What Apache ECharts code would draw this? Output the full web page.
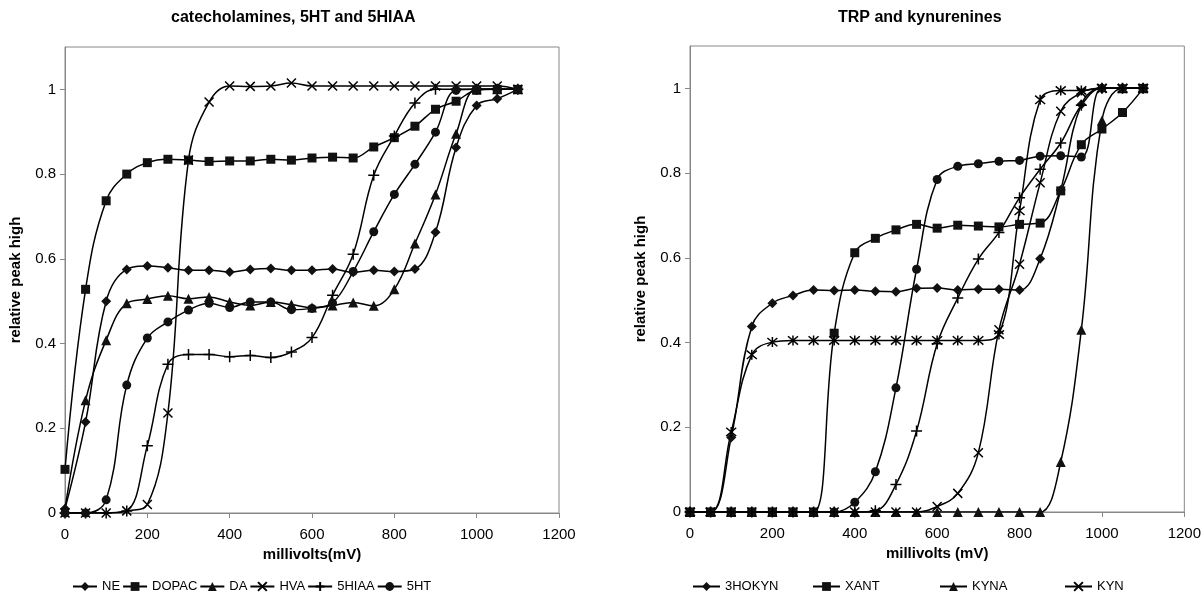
<!DOCTYPE html>
<html>
<head>
<meta charset="utf-8">
<script src="https://cdn.jsdelivr.net/npm/echarts@6/dist/echarts.min.js"></script>
<style>
  html, body { margin: 0; background: #fff; }
  #chart { width: 1204px; height: 616px; }
</style>
</head>
<body>
<div id="chart"></div>
<script>
// x values (mV), shared by both panels
const millivolts = [0, 50, 100, 150, 200, 250, 300, 350, 400, 450, 500, 550,
  600, 650, 700, 750, 800, 850, 900, 950, 1000, 1050, 1100];

// left panel: catecholamines, 5HT and 5HIAA
const NE    = [0.01, 0.215, 0.50, 0.575, 0.583, 0.579, 0.573, 0.573, 0.569, 0.575, 0.577, 0.573, 0.573, 0.576, 0.568, 0.573, 0.57, 0.576, 0.663, 0.863, 0.962, 0.978, 1.0];
const DOPAC = [0.103, 0.528, 0.737, 0.80, 0.827, 0.835, 0.833, 0.83, 0.831, 0.831, 0.835, 0.833, 0.838, 0.84, 0.838, 0.864, 0.886, 0.913, 0.953, 0.972, 0.998, 1.0, 1.0];
const DA    = [0.01, 0.266, 0.408, 0.495, 0.505, 0.513, 0.506, 0.51, 0.498, 0.49, 0.498, 0.492, 0.485, 0.49, 0.497, 0.489, 0.528, 0.636, 0.752, 0.895, 1.0, 1.0, 1.0];
const HVA   = [0, 0, 0, 0.005, 0.02, 0.236, 0.833, 0.97, 1.008, 1.007, 1.008, 1.015, 1.008, 1.008, 1.008, 1.008, 1.008, 1.008, 1.008, 1.008, 1.008, 1.008, 1.0];
const HIAA5 = [0, 0, 0, 0.005, 0.159, 0.351, 0.374, 0.374, 0.369, 0.372, 0.367, 0.38, 0.414, 0.514, 0.611, 0.797, 0.89, 0.968, 1.0, 1.0, 1.0, 1.0, 1.0];
const HT5   = [0, 0, 0.031, 0.302, 0.413, 0.451, 0.479, 0.495, 0.485, 0.498, 0.498, 0.48, 0.483, 0.496, 0.57, 0.664, 0.752, 0.823, 0.899, 0.998, 1.0, 1.0, 1.0];

// right panel: TRP and kynurenines
const HOKYN3 = [0, 0, 0.176, 0.438, 0.493, 0.511, 0.524, 0.523, 0.524, 0.521, 0.52, 0.528, 0.529, 0.524, 0.526, 0.526, 0.524, 0.598, 0.76, 0.962, 1.0, 1.0, 1.0];
const XANT   = [0, 0, 0, 0, 0, 0, 0, 0.422, 0.612, 0.646, 0.666, 0.679, 0.67, 0.677, 0.675, 0.673, 0.679, 0.682, 0.758, 0.867, 0.904, 0.943, 1.0];
const KYNA   = [0, 0, 0, 0, 0, 0, 0, 0, 0, 0, 0, 0, 0, 0, 0, 0, 0, 0, 0.118, 0.43, 0.924, 1.0, 1.0];
const KYN    = [0, 0, 0, 0, 0, 0, 0, 0, 0, 0, 0, 0, 0.013, 0.044, 0.14, 0.43, 0.585, 0.777, 0.946, 0.99, 1.0, 1.0, 1.0];
// series whose legend entries are cut off in the source
const starSeries   = [0, 0, 0.189, 0.371, 0.401, 0.405, 0.405, 0.405, 0.405, 0.405, 0.405, 0.405, 0.405, 0.405, 0.405, 0.419, 0.711, 0.973, 0.995, 0.995, 1.0, 1.0, 1.0];
const circleSeries = [0, 0, 0, 0, 0, 0, 0, 0, 0.023, 0.095, 0.293, 0.573, 0.785, 0.816, 0.822, 0.828, 0.83, 0.84, 0.841, 0.838, 1.0, 1.0, 1.0];
const plusSeries   = [0, 0, 0, 0, 0, 0, 0, 0, 0, 0.003, 0.065, 0.191, 0.397, 0.505, 0.597, 0.66, 0.742, 0.809, 0.871, 0.96, 1.0, 1.0, 1.0];

const yTicks = [0, 0.2, 0.4, 0.6, 0.8, 1];
const xTicks = [0, 200, 400, 600, 800, 1000, 1200];

const X_MARK = 'path://M0,0L10,10M10,0L0,10';
const PLUS_MARK = 'path://M5,0L5,10M0,5L10,5';
const STAR_MARK = 'path://M0,0L10,10M10,0L0,10M5,-1L5,11';

const chart = echarts.init(document.getElementById('chart'));

function line(name, values, symbol, grid, size) {
  const stroked = symbol.indexOf('path://') === 0;
  return {
    name: name,
    type: 'line',
    xAxisIndex: grid,
    yAxisIndex: grid,
    data: millivolts.map((mv, i) => [mv, values[i]]),
    smooth: 0.4,
    symbol: symbol,
    symbolSize: size || 9,
    showAllSymbol: true,
    lineStyle: { color: '#000', width: 1.5 },
    itemStyle: stroked
      ? { color: '#000', borderColor: '#000', borderWidth: 1.5 }
      : { color: '#111', borderWidth: 0 },
    animation: false
  };
}

function xAxis(grid, name) {
  return {
    type: 'value', gridIndex: grid, min: xTicks[0], max: xTicks[xTicks.length - 1], interval: 200,
    name: name, nameLocation: 'middle', nameGap: 34,
    nameTextStyle: { fontFamily: 'Liberation Sans', fontWeight: 'bold', fontSize: 15, color: '#000' },
    axisLine: { show: true, lineStyle: { color: '#888' } },
    axisTick: { show: true, length: 5, lineStyle: { color: '#888' } },
    axisLabel: { fontFamily: 'Liberation Sans', fontSize: 15, color: '#000', margin: 14,
      formatter: v => String(v) },
    splitLine: { show: false }
  };
}

function yAxis(grid) {
  return {
    type: 'value', gridIndex: grid, min: 0, max: 1.1, interval: 0.2,
    name: 'relative peak high', nameLocation: 'middle', nameGap: 42,
    nameTextStyle: { fontFamily: 'Liberation Sans', fontWeight: 'bold', fontSize: 15, color: '#000' },
    axisLine: { show: true, lineStyle: { color: '#888' } },
    axisTick: { show: true, length: 5, lineStyle: { color: '#888' } },
    axisLabel: {
      fontFamily: 'Liberation Sans', fontSize: 15, color: '#000', margin: 9,
      showMaxLabel: false,
      formatter: v => (yTicks.indexOf(+v.toFixed(1)) >= 0 ? String(+v.toFixed(1)) : '')
    },
    splitLine: { show: false }
  };
}

const legendText = { fontFamily: 'Liberation Sans', fontSize: 13, color: '#000' };

chart.setOption({
  backgroundColor: '#fff',
  title: [
    { text: 'catecholamines, 5HT and 5HIAA', left: 166, top: 5,
      textStyle: { fontFamily: 'Liberation Sans', fontWeight: 'bold', fontSize: 16, color: '#000' } },
    { text: 'TRP and kynurenines', left: 833, top: 5,
      textStyle: { fontFamily: 'Liberation Sans', fontWeight: 'bold', fontSize: 16, color: '#000' } }
  ],
  grid: [
    { left: 65, right: 645, top: 47, bottom: 103, show: true, borderColor: '#888', borderWidth: 1 },
    { left: 690, right: 18, top: 46, bottom: 104, show: true, borderColor: '#888', borderWidth: 1 }
  ],
  xAxis: [xAxis(0, 'millivolts(mV)'), xAxis(1, 'millivolts (mV)')],
  yAxis: [yAxis(0), yAxis(1)],
  legend: [
    { left: 67, top: 575, itemWidth: 24, itemHeight: 11, itemGap: 2, textStyle: legendText,
      data: ['NE', 'DOPAC', 'DA', 'HVA', '5HIAA', '5HT'] },
    { left: 687, top: 575, itemWidth: 27, itemHeight: 11, textStyle: legendText, data: ['3HOKYN'] },
    { left: 807, top: 575, itemWidth: 27, itemHeight: 11, textStyle: legendText, data: ['XANT'] },
    { left: 934, top: 575, itemWidth: 27, itemHeight: 11, textStyle: legendText, data: ['KYNA'] },
    { left: 1059, top: 575, itemWidth: 27, itemHeight: 11, textStyle: legendText, data: ['KYN'] }
  ],
  series: [
    line('NE', NE, 'diamond', 0, 10),
    line('DOPAC', DOPAC, 'rect', 0, 9),
    line('DA', DA, 'triangle', 0, 10),
    line('HVA', HVA, X_MARK, 0, 9),
    line('5HIAA', HIAA5, PLUS_MARK, 0, 11),
    line('5HT', HT5, 'circle', 0, 9),

    line('3HOKYN', HOKYN3, 'diamond', 1, 10),
    line('XANT', XANT, 'rect', 1, 9),
    line('KYNA', KYNA, 'triangle', 1, 10),
    line('KYN', KYN, X_MARK, 1, 9),
    line('s5', starSeries, STAR_MARK, 1, 10),
    line('s6', circleSeries, 'circle', 1, 9),
    line('s7', plusSeries, PLUS_MARK, 1, 11)
  ]
});
</script>
</body>
</html>
